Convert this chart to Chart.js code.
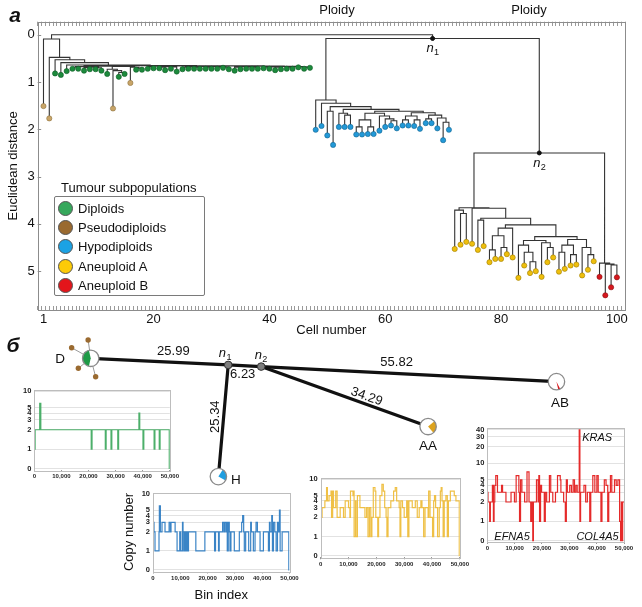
<!DOCTYPE html>
<html lang="en">
<head>
<meta charset="utf-8">
<title>Tumour subpopulations</title>
<script src="https://cdn.jsdelivr.net/npm/chart.js@4.4.1/dist/chart.umd.min.js"></script>
<style>
  html, body { margin:0; padding:0; background:#fff; }
  #fig { position:relative; width:642px; height:607px; overflow:hidden; font-family:"Liberation Sans", Arial, Helvetica, sans-serif; color:#111; }
  #fig canvas { position:absolute; }
  .lbl { position:absolute; white-space:nowrap; line-height:1; transform:translate(-50%,-50%); font-size:13px; }
  .lblL { position:absolute; white-space:nowrap; line-height:1; transform:translate(0,-50%); font-size:13px; }
  .panel { font-weight:bold; font-style:italic; font-size:21px; }
  #legendBox { position:absolute; left:54px; top:196px; width:151px; height:100px; border:1px solid #7a7a7a; border-radius:2px; box-sizing:border-box; background:#fff; }
  .legItem { position:absolute; left:3px; height:16px; display:flex; align-items:center; font-size:13px; white-space:nowrap; }
  .legSw { width:15px; height:15px; border-radius:50%; border:1px solid #555; box-sizing:border-box; margin-right:5px; flex:none; }
</style>
</head>
<body>
<div id="fig">
  <canvas id="dendro"></canvas>
  <canvas id="net"></canvas>
  <canvas id="miniD"></canvas>
  <canvas id="miniH"></canvas>
  <canvas id="miniAA"></canvas>
  <canvas id="miniAB"></canvas>
  <div class="lbl panel" style="left:15px;top:14px;">a</div>
  <div class="lbl panel" style="left:13px;top:344px;">б</div>
  <div class="lbl" style="left:337px;top:9px;">Ploidy</div>
  <div class="lbl" style="left:529px;top:9px;">Ploidy</div>
  <div class="lblL" style="left:61px;top:187px;">Tumour subpopulations</div>
  <div id="legendBox"></div>
</div>
<script>
// ======================= DATA =======================
// Panel a: hierarchical clustering of 100 cells
const subpopulations = ['Diploids', 'Pseudodiploids', 'Hypodiploids', 'Aneuploid A', 'Aneuploid B'];
// subpopulation index of cells 1..100 (left to right in the dendrogram)
const cellGroup = [
  1,1,0,0,0,0,0,0,0,0, 0,0,1,0,0,1,0,0,0,0,
  0,0,0,0,0,0,0,0,0,0, 0,0,0,0,0,0,0,0,0,0,
  0,0,0,0,0,0,0,2,2,2, 2,2,2,2,2,2,2,2,2,2,
  2,2,2,2,2,2,2,2,2,2, 2,3,3,3,3,3,3,3,3,3,
  3,3,3,3,3,3,3,3,3,3, 3,3,3,3,3,3,4,4,4,4
];
// Euclidean distance of each leaf (cells 1..100)
const leafDepth = [
  1.51,1.77,0.82,0.85,0.77,0.72,0.72,0.76,0.73,0.73,
  0.76,0.83,1.56,0.89,0.83,1.02,0.74,0.74,0.72,0.71,
  0.71,0.75,0.72,0.78,0.73,0.72,0.72,0.72,0.72,0.72,
  0.72,0.70,0.73,0.76,0.73,0.72,0.72,0.72,0.71,0.72,
  0.75,0.73,0.72,0.72,0.69,0.72,0.70,2.01,1.93,2.13,
  2.33,1.95,1.95,1.95,2.11,2.11,2.10,2.10,2.03,1.95,
  1.92,1.98,1.92,1.92,1.93,1.99,1.87,1.87,1.98,2.23,
  2.01,4.53,4.44,4.38,4.42,4.55,4.47,4.81,4.74,4.74,
  4.64,4.71,5.14,4.88,5.04,5.00,5.12,4.81,4.71,5.01,
  4.95,4.88,4.86,5.09,4.97,4.79,5.12,5.51,5.34,5.13
];
const cellTicks = [1, 20, 40, 60, 80, 100];
const distanceTicks = [0, 1, 2, 3, 4, 5];

// Merge tree: [merge height, left child, right child]; leaves are cell numbers
const treeHypo = [1.38, 48, [1.45, 49, [1.52, [1.62, 50, 51],
  [1.58, [1.66, 52, [1.70, 53, 54]],
    [1.62, [1.66, [1.80, [1.95, 55, 56], [1.95, 57, 58]], [1.72, 59, [1.78, 60, [1.82, 61, 62]]]],
           [1.65, [1.72, [1.80, 63, 64], [1.80, 65, 66]], [1.70, [1.78, 67, 68], [1.76, 69, [1.85, 70, 71]]]]]]]]];
const treeAneuA = [3.66, [3.71, 72, [3.78, 73, 74]], [3.67, 75, [3.88, [3.92, 76, 77],
  [4.02, [4.09, [4.25, [4.55, 78, 79], [4.50, 80, 81]], 82],
    [4.27, [4.35, [4.45, 83, [4.60, 84, [4.80, 85, 86]]], [4.40, 87, [4.50, 88, 89]]],
           [4.33, [4.45, [4.60, 90, 91], [4.65, 92, 93]], [4.50, 94, [4.65, 95, 96]]]]]]]];
const treeAneuB = [4.83, 97, [4.85, 98, [4.87, 99, 100]]];
const nodeN2 = [2.50, treeAneuA, treeAneuB];
const nodeN1 = [0.08, treeHypo, nodeN2];
const treeDiploid = [0.09, 1, [0.48, 2, [0.53, 3, [0.59, 4, [0.64, 5, [0.655,
  [0.665, [0.675, [0.69, 6, 7], [0.69, [0.70, 8, 9], [0.70, 10, 11]]],
          [0.67, [0.73, 12, [0.76, 13, [0.80, 14, 15]]], [0.69, 16, [0.71, 17, 18]]]],
  [0.66, [0.665, [0.68, 19, 20], [0.675, [0.685, 21, 22], [0.68, 23, 24]]],
         [0.66, [0.67, [0.68, [0.69, 25, 26], [0.685, 27, 28]], [0.675, [0.685, 29, 30], [0.68, 31, [0.69, 32, 33]]]],
                [0.665, [0.675, [0.685, 34, 35], [0.68, 36, [0.69, 37, 38]]],
                        [0.67, [0.68, [0.69, 39, 40], [0.685, 41, 42]], [0.675, [0.685, 43, 44], [0.68, 45, [0.69, 46, 47]]]]]]]]]]]]];
const treeRoot = [0.00, treeDiploid, nodeN1];

// Panel b: tree of subpopulations (edge lengths)
const edgeFrom   = ['D', 'n1', 'n1', 'n2', 'n2'];
const edgeTo     = ['n1', 'n2', 'H', 'AB', 'AA'];
const edgeLength = [25.99, 6.23, 25.34, 55.82, 34.29];
const nodeGroup  = { D: 0, H: 2, AA: 3, AB: 4 };

// Copy-number profiles (bin start, copy number)
const binTicks = [0, 10000, 20000, 30000, 40000, 50000];
const cnTicks = [0, 1, 2, 3, 4, 5, 10];
const cnTicksWide = [0, 1, 2, 3, 4, 5, 10, 20, 30, 40];
const diploidBins = [0,300,2000,2400,21000,21300,26200,26500,28300,28600,30800,31100,38600,38900,40100,40400,44200,44500,46100,46400,49800,50000];
const diploidCN   = [1,2,6,2,1,2,1,2,1,2,1,2,4,2,1,2,1,2,1,2,0,0];
const hypoBins = [0,370,735,2200,2330,2700,3300,4400,5900,6370,6600,8100,8820,9800,10170,10800,11000,11270,11640,11900,12250,12620,13000,15690,19000,22550,22900,24000,24260,25500,25980,26230,26720,26960,27200,27570,27940,28200,28550,29780,31620,32480,32840,33210,33450,33940,35050,35780,36030,36760,37380,37750,38240,39220,40440,42280,42650,42900,43500,43750,44120,44610,45100,45590,45960,46320,46570,47300,49750,50000];
const hypoCN   = [3,2,1,2,6,2,3,2,3,2,3,2,1,2,1,3,2,1,2,1,2,1,2,1,2,1,2,1,2,3,2,3,2,3,1,3,2,1,2,1,2,3,4,2,1,2,1,3,2,1,2,3,2,1,2,1,3,2,4,1,3,2,1,3,2,5,1,2,0,0];
const aneuABins = [0,500,1500,2100,2400,3000,3700,3900,4300,4600,5400,5900,7000,8200,8800,10000,10500,10700,11600,11900,12000,12500,12700,13200,14100,15900,16500,17000,17500,18000,18400,18900,19500,19800,20500,20800,21300,22000,22500,23000,23500,23800,24200,25200,26200,26800,27300,28200,28500,28800,29400,30000,30900,31300,31700,32900,34000,34700,35400,36000,36400,37000,37500,38600,38800,39300,40200,40600,40900,41300,42000,42600,43000,43300,43600,44000,44400,45000,45500,45900,46600,48000,48600,49800,50000];
const aneuACN   = [2,3,4,7,4,5,6,2,6,3,6,2,3,2,4,3,2,6,5,6,1,4,1,5,3,2,3,1,3,1,2,7,6,2,1,2,5,8,6,3,2,1,3,4,6,7,4,3,1,4,3,2,4,1,4,3,4,2,3,4,3,1,3,2,6,2,1,4,5,3,1,3,6,7,4,1,4,5,1,4,6,5,4,0,0];
const aneuBBins = [0,250,870,1120,1860,2230,2480,2730,3100,3720,5210,5580,6820,8680,9930,10550,11540,11790,12160,12650,13650,14520,15260,15880,16250,16630,16870,17990,18610,18860,19110,19480,19850,20840,21220,21710,22710,23200,23950,24940,25680,26680,26920,27920,28540,28910,29280,30150,30770,31390,31890,32380,32880,33620,33870,34120,35360,35980,36600,37470,37840,38590,39330,40070,40570,41560,41940,42800,43430,44050,44420,45040,45530,46530,47150,47770,48390,48760,49010,49260,49510,50000];
const aneuBCN   = [3,2,1,2,4,1,2,4,6,3,4,3,2,3,2,6,3,1,5,3,2,7,2,1,2,0,2,5,2,6,1,4,3,1,3,2,6,3,2,3,6,5,3,2,1,5,3,4,3,5,3,4,3,40,1,3,4,2,3,1,3,6,3,6,3,1,3,5,4,1,3,6,3,5,4,5,1,0,2,0,2,2];
const geneNames = ['KRAS', 'EFNA5', 'COL4A5'];
const geneBins  = [33620, 16630, 48760];

// ======================= STYLE =======================
const FONT = '"Liberation Sans", Arial, Helvetica, sans-serif';
Chart.defaults.font.family = FONT;
Chart.defaults.color = '#111';
Chart.defaults.animation = false;

const legendColors = ['#36a85c', '#9a6a30', '#1ba2e4', '#fccb08', '#e3151b'];
const leafColors   = ['#1c8a3c', '#c9a568', '#2299d8', '#efbf0c', '#d6181e'];
const leafBorders  = ['#0f5c26', '#8f7442', '#14648f', '#9c7c05', '#8a0f12'];
const pieColors    = ['#1e9a46', '#9a6a30', '#1f9ee0', '#dca21e', '#d8161b'];

// ---------- HTML legend ----------
const legBox = document.getElementById('legendBox');
subpopulations.forEach((name, i) => {
  const it = document.createElement('div');
  it.className = 'legItem';
  it.style.top = (3.5 + i * 19.2) + 'px';
  const sw = document.createElement('span');
  sw.className = 'legSw';
  sw.style.background = legendColors[i];
  it.appendChild(sw);
  it.appendChild(document.createTextNode(name));
  legBox.appendChild(it);
});

function placeCanvas(id, left, top, w, h) {
  const c = document.getElementById(id);
  c.width = w; c.height = h;
  c.style.left = left + 'px'; c.style.top = top + 'px';
  c.style.width = w + 'px'; c.style.height = h + 'px';
  return c;
}

function drawSubLabel(ctx, x, y, base, sub, size) {
  ctx.save();
  ctx.textBaseline = 'middle'; ctx.textAlign = 'left'; ctx.fillStyle = '#111';
  ctx.font = `italic ${size}px ${FONT}`;
  const w1 = ctx.measureText(base).width;
  ctx.font = `${size * 0.7}px ${FONT}`;
  const w2 = ctx.measureText(sub).width;
  const x0 = x - (w1 + w2) / 2;
  ctx.font = `italic ${size}px ${FONT}`;
  ctx.fillText(base, x0, y);
  ctx.font = `${size * 0.7}px ${FONT}`;
  ctx.fillText(sub, x0 + w1 + 0.3, y + size * 0.32);
  ctx.restore();
}

// ======================= PANEL a: dendrogram =======================
const segs = [];
const namedNodes = {};
function walk(node) {
  if (typeof node === 'number') return { x: node, y: leafDepth[node - 1] };
  const h = node[0];
  const a = walk(node[1]), b = walk(node[2]);
  segs.push({ x: a.x, y: a.y }, { x: a.x, y: h }, { x: b.x, y: h }, { x: b.x, y: b.y }, { x: null, y: null });
  const p = { x: (a.x + b.x) / 2, y: h };
  if (node === nodeN1) namedNodes.n1 = p;
  if (node === nodeN2) namedNodes.n2 = p;
  return p;
}
walk(treeRoot);

const leafSets = subpopulations.map((name, g) => ({
  label: name,
  data: cellGroup.map((grp, i) => grp === g ? { x: i + 1, y: leafDepth[i] } : null).filter(Boolean),
  pointRadius: 2.6, pointBorderWidth: 0.6,
  backgroundColor: leafColors[g], borderColor: leafBorders[g], order: 1
}));

const rulerTicks = [];
for (let i = 0; i <= 153; i++) rulerTicks.push({ value: i });

const dendroFrame = {
  id: 'dendroFrame',
  afterDraw(chart) {
    const { ctx, chartArea: a } = chart;
    ctx.save();
    ctx.strokeStyle = '#8c8c8c'; ctx.lineWidth = 1;
    ctx.strokeRect(Math.round(a.left) + 0.5, Math.round(a.top - 4) + 0.5, Math.round(a.right - a.left), Math.round(a.bottom - a.top + 8));
    distanceTicks.forEach(v => {
      const y = Math.round(chart.scales.y.getPixelForValue(v)) + 0.5;
      ctx.beginPath(); ctx.moveTo(a.left, y); ctx.lineTo(a.left + 3.5, y); ctx.stroke();
    });
    ctx.restore();
    const X = chart.scales.x, Y = chart.scales.y;
    drawSubLabel(ctx, X.getPixelForValue(namedNodes.n1.x), Y.getPixelForValue(namedNodes.n1.y) + 10, 'n', '1', 13);
    drawSubLabel(ctx, X.getPixelForValue(namedNodes.n2.x), Y.getPixelForValue(namedNodes.n2.y) + 10, 'n', '2', 13);
  }
};

const rulerAxis = (pos) => ({
  type: 'linear', position: pos, weight: 0, min: 0, max: 153,
  afterBuildTicks: s => { s.ticks = rulerTicks.slice(); },
  afterFit: s => { s.height = 4; },
  grid: { drawOnChartArea: false, drawTicks: true, tickLength: 4, color: '#9a9a9a', lineWidth: 1 },
  border: { display: false },
  ticks: { display: false }
});

new Chart(placeCanvas('dendro', 0, 0, 642, 340), {
  type: 'scatter',
  data: {
    datasets: [
      { label: 'tree', data: segs, showLine: true, spanGaps: false, borderColor: '#333', borderWidth: 1.1,
        pointRadius: 0, borderCapStyle: 'square', borderJoinStyle: 'miter', order: 3 },
      ...leafSets,
      { label: 'nodes', data: [namedNodes.n1, namedNodes.n2], pointRadius: 2, backgroundColor: '#111', borderColor: '#111', order: 0 }
    ]
  },
  options: {
    responsive: false, devicePixelRatio: 1, animation: false, events: [],
    layout: { padding: { left: 0, right: 17, top: 21.7, bottom: 2.2 } },
    plugins: { legend: { display: false }, tooltip: { enabled: false } },
    scales: {
      x: {
        type: 'linear', position: 'bottom', weight: 1, min: 0, max: 101.4,
        afterBuildTicks: s => { s.ticks = cellTicks.map(v => ({ value: v })); },
        afterFit: s => { s.height = 27.8; },
        grid: { display: false, drawTicks: false }, border: { display: false },
        ticks: { autoSkip: false, maxRotation: 0, padding: 2, font: { size: 13 }, color: '#111' },
        title: { display: true, text: 'Cell number', font: { size: 13 }, color: '#111', padding: 0 }
      },
      xr: rulerAxis('bottom'),
      xt: rulerAxis('top'),
      y: {
        type: 'linear', position: 'left', reverse: true, min: -0.19, max: 5.736,
        afterBuildTicks: s => { s.ticks = distanceTicks.map(v => ({ value: v })); },
        afterFit: s => { s.width = 37.7; },
        grid: { display: false, drawTicks: false }, border: { display: false },
        ticks: { autoSkip: false, padding: 3, font: { size: 13 }, color: '#111' },
        title: { display: true, text: 'Euclidean distance', font: { size: 13 }, color: '#111', padding: { top: 6, bottom: 0 } }
      }
    }
  },
  plugins: [dendroFrame]
});

// ======================= PANEL b: subpopulation tree =======================
const netStyle = {
  sx: 5.3, sy: 4.42,                        // px per distance unit (x / y)
  originX: 90.7, originY: 23.3,             // pixel position of D inside the canvas
  edgeAngle: [3.3, 3.5, 94.2, 3.5, 23.3],   // layout directions (deg)
  pieCenter: { D: 180, H: -15, AA: 5, AB: 70 },
  nodeR: 8.2, innerR: 3.8,
  satAngle: [209, 262, 141, 75], satLen: [21.8, 18.5, 15.9, 19.1],
  nodeLabel: { D: [-30.7, 0.7], H: [17.6, 3.4], AA: [0, 19.4], AB: [3.5, 21.3], n1: [-3.2, -11.6], n2: [-0.2, -11.6] },
  edgeLabel: [[13.9, -9.9, 0], [-2, 8.5, 0], [-8.3, -4.1, -90], [-12.2, -11.9, 0], [22, 0.1, 19.8]]
};
const nodePos = { D: { x: 0, y: 0 } };
edgeFrom.forEach((f, i) => {
  const a = netStyle.edgeAngle[i] * Math.PI / 180;
  nodePos[edgeTo[i]] = { x: nodePos[f].x + edgeLength[i] * Math.cos(a), y: nodePos[f].y + edgeLength[i] * Math.sin(a) };
});
const groupCount = subpopulations.map((_, g) => cellGroup.filter(v => v === g).length);
const totalCells = cellGroup.length;

const NET_W = 642, NET_H = 165;
const netPlugin = {
  id: 'netGlyphs',
  beforeDatasetsDraw(chart) {
    const { ctx } = chart; const X = chart.scales.x, Y = chart.scales.y;
    const cx = X.getPixelForValue(nodePos.D.x), cy = Y.getPixelForValue(nodePos.D.y);
    ctx.save();
    for (let i = 0; i < groupCount[1]; i++) {
      const a = netStyle.satAngle[i] * Math.PI / 180, L = netStyle.satLen[i];
      const sx = cx + L * Math.cos(a), sy = cy + L * Math.sin(a);
      ctx.strokeStyle = '#9a9a9a'; ctx.lineWidth = 1;
      ctx.beginPath(); ctx.moveTo(cx, cy); ctx.lineTo(sx, sy); ctx.stroke();
      ctx.fillStyle = pieColors[1];
      ctx.beginPath(); ctx.arc(sx, sy, 2.7, 0, Math.PI * 2); ctx.fill();
    }
    ctx.restore();
  },
  afterDatasetsDraw(chart) {
    const { ctx } = chart; const X = chart.scales.x, Y = chart.scales.y;
    const P = id => [X.getPixelForValue(nodePos[id].x), Y.getPixelForValue(nodePos[id].y)];
    ctx.save();
    Object.keys(nodeGroup).forEach(id => {
      const [x, y] = P(id); const g = nodeGroup[id]; const r = netStyle.nodeR;
      ctx.beginPath(); ctx.arc(x, y, r, 0, Math.PI * 2); ctx.fillStyle = '#fff'; ctx.fill();
      const half = Math.PI * groupCount[g] / totalCells, c = netStyle.pieCenter[id] * Math.PI / 180;
      ctx.beginPath(); ctx.moveTo(x, y); ctx.arc(x, y, r, c - half, c + half); ctx.closePath();
      ctx.fillStyle = pieColors[g]; ctx.fill();
      ctx.beginPath(); ctx.arc(x, y, r, 0, Math.PI * 2); ctx.strokeStyle = '#8a8a8a'; ctx.lineWidth = 1.3; ctx.stroke();
    });
    ['n1', 'n2'].forEach(id => {
      const [x, y] = P(id);
      ctx.beginPath(); ctx.arc(x, y, netStyle.innerR, 0, Math.PI * 2);
      ctx.fillStyle = '#7d7d7d'; ctx.fill(); ctx.strokeStyle = '#333'; ctx.lineWidth = 1; ctx.stroke();
    });
    ctx.fillStyle = '#111'; ctx.textAlign = 'center'; ctx.textBaseline = 'middle';
    ctx.font = `13.5px ${FONT}`;
    ['D', 'H', 'AA', 'AB'].forEach(id => {
      const [x, y] = P(id); const o = netStyle.nodeLabel[id];
      ctx.fillText(id, x + o[0], y + o[1]);
    });
    ['n1', 'n2'].forEach(id => {
      const [x, y] = P(id); const o = netStyle.nodeLabel[id];
      drawSubLabel(ctx, x + o[0], y + o[1], 'n', id.slice(1), 13);
    });
    ctx.font = `13px ${FONT}`;
    edgeFrom.forEach((f, i) => {
      const [x1, y1] = P(f), [x2, y2] = P(edgeTo[i]);
      const o = netStyle.edgeLabel[i];
      ctx.save();
      ctx.translate((x1 + x2) / 2 + o[0], (y1 + y2) / 2 + o[1]);
      ctx.rotate(o[2] * Math.PI / 180);
      ctx.fillStyle = '#111';
      ctx.fillText(edgeLength[i].toFixed(2), 0, 0);
      ctx.restore();
    });
    ctx.restore();
  }
};

new Chart(placeCanvas('net', 0, 335, NET_W, NET_H), {
  type: 'scatter',
  data: {
    datasets: edgeFrom.map((f, i) => ({
      label: f + '-' + edgeTo[i],
      data: [nodePos[f], nodePos[edgeTo[i]]],
      showLine: true, borderColor: '#111', borderWidth: 3.2, pointRadius: 0, borderCapStyle: 'round'
    }))
  },
  options: {
    responsive: false, devicePixelRatio: 1, animation: false, events: [],
    layout: { padding: 0 },
    plugins: { legend: { display: false }, tooltip: { enabled: false } },
    scales: {
      x: { type: 'linear', display: false, min: -netStyle.originX / netStyle.sx, max: (NET_W - netStyle.originX) / netStyle.sx },
      y: { type: 'linear', display: false, reverse: true, min: -netStyle.originY / netStyle.sy, max: (NET_H - netStyle.originY) / netStyle.sy }
    }
  },
  plugins: [netPlugin]
});

// ======================= copy-number mini charts =======================
function cnTransform(v) { return v <= 2 ? v / 4 : 0.5 + 0.5 * Math.log(v / 2) / Math.log(5); }

const miniFrame = {
  id: 'miniFrame',
  afterDatasetsDraw(chart) {
    const { ctx, chartArea: a } = chart;
    ctx.save(); ctx.strokeStyle = '#bdbdbd'; ctx.lineWidth = 1;
    ctx.strokeRect(Math.round(a.left) + 0.5, Math.round(a.top) + 0.5, Math.round(a.right - a.left), Math.round(a.bottom - a.top));
    ctx.restore();
  }
};

const geneLabels = {
  id: 'geneLabels',
  afterDatasetsDraw(chart) {
    const { ctx, chartArea: a } = chart; const X = chart.scales.x;
    ctx.save(); ctx.fillStyle = '#111'; ctx.font = `italic 11px ${FONT}`; ctx.textBaseline = 'middle';
    const place = [['left', 3, a.top + 9.5], ['right', -3, a.bottom - 5.5], ['right', -2, a.bottom - 5.5]];
    geneNames.forEach((g, i) => {
      ctx.textAlign = place[i][0];
      ctx.fillText(g, X.getPixelForValue(geneBins[i]) + place[i][1], place[i][2]);
    });
    ctx.restore();
  }
};

function miniChart(cfg) {
  const W = cfg.right - cfg.left, H = cfg.bottom - cfg.top, pl = cfg.plot;
  new Chart(placeCanvas(cfg.id, cfg.left, cfg.top, W, H), {
    type: 'scatter',
    data: {
      datasets: [{
        label: cfg.label,
        data: cfg.bins.map((b, i) => ({ x: b, y: cnTransform(cfg.cn[i]) })),
        showLine: true, stepped: 'before', borderColor: cfg.color, borderWidth: 1.2, pointRadius: 0
      }]
    },
    options: {
      responsive: false, devicePixelRatio: 1, animation: false, events: [],
      layout: { padding: { left: 0, top: pl.t - cfg.top, right: cfg.right - pl.r, bottom: 0 } },
      plugins: { legend: { display: false }, tooltip: { enabled: false } },
      scales: {
        x: {
          type: 'linear', position: 'bottom', min: 0, max: 50000,
          afterBuildTicks: s => { s.ticks = binTicks.map(v => ({ value: v })); },
          afterFit: s => { s.height = cfg.bottom - pl.b; },
          grid: { drawOnChartArea: false, drawTicks: true, tickLength: 2, color: '#999' },
          border: { display: false },
          ticks: { autoSkip: false, maxRotation: 0, padding: 1, font: { size: 6, weight: 'bold' }, color: '#222',
                   callback: v => Number(v).toLocaleString('en-US') },
          title: cfg.xTitle ? { display: true, text: cfg.xTitle, font: { size: 13 }, color: '#111', padding: 0 } : { display: false }
        },
        y: {
          type: 'linear', position: 'left', min: cfg.yMin, max: cfg.yMax,
          afterBuildTicks: s => { s.ticks = cfg.yTicks.map(v => ({ value: cnTransform(v) })); },
          afterFit: s => { s.width = pl.l - cfg.left; },
          grid: { color: '#dadada', drawTicks: false, lineWidth: 0.8 },
          border: { display: false },
          ticks: { autoSkip: false, padding: 3, font: { size: 7.5, weight: 'bold' }, color: '#222',
                   callback: (v, i) => String(cfg.yTicks[i]) },
          title: cfg.yTitle ? { display: true, text: cfg.yTitle, font: { size: 13 }, color: '#111', padding: { top: 0, bottom: 0 } } : { display: false }
        }
      }
    },
    plugins: cfg.genes ? [miniFrame, geneLabels] : [miniFrame]
  });
}

miniChart({ id: 'miniD', label: 'Diploids', left: 15, top: 382, right: 180, bottom: 485,
  plot: { l: 34.3, t: 388, r: 170.7, b: 470 }, yMin: -0.02, yMax: 1.02, yTicks: cnTicks,
  bins: diploidBins, cn: diploidCN, color: '#4caf6a' });
miniChart({ id: 'miniH', label: 'Hypodiploids', left: 122, top: 485, right: 300, bottom: 603,
  plot: { l: 153, t: 492, r: 289.5, b: 571.5 }, yMin: -0.02, yMax: 1.017, yTicks: cnTicks,
  bins: hypoBins, cn: hypoCN, color: '#3a84c6', yTitle: 'Copy number', xTitle: 'Bin index' });
miniChart({ id: 'miniAA', label: 'Aneuploid A', left: 300, top: 470, right: 470, bottom: 575,
  plot: { l: 320.7, t: 477.7, r: 461, b: 557.3 }, yMin: -0.02, yMax: 1.017, yTicks: cnTicks,
  bins: aneuABins, cn: aneuACN, color: '#efc045' });
miniChart({ id: 'miniAB', label: 'Aneuploid B', left: 465, top: 420, right: 640, bottom: 560,
  plot: { l: 487.3, t: 428, r: 624, b: 542 }, yMin: -0.017, yMax: 1.456, yTicks: cnTicksWide,
  bins: aneuBBins, cn: aneuBCN, color: '#e52a2a', genes: true });
</script>
</body>
</html>
